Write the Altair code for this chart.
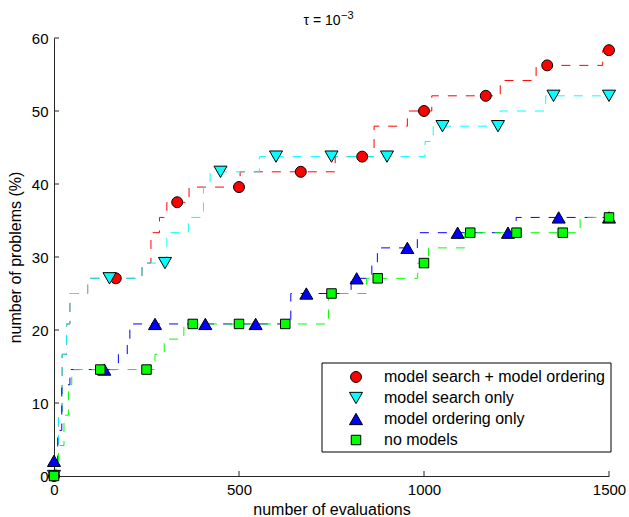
import altair as alt
import pandas as pd

FONT = "Liberation Sans"
SERIES = ["model search + model ordering", "model search only", "model ordering only", "no models"]
COLORS = ["#ff0000", "#00ffff", "#0000ff", "#00ff00"]
SHAPES = ["circle", "triangle-down", "triangle-up", "square"]
SIZES = [120, 170, 170, 90]

TITLE_BASE = "τ = 10"
TITLE_EXP = "−3"
X_TITLE = "number of evaluations"
Y_TITLE = "number of problems (%)"
X_TICKS = [0, 500, 1000, 1500]
Y_TICKS = [0, 10, 20, 30, 40, 50, 60]

# step change points: evaluations, % problems solved
red_x = [0, 5, 12, 22, 34, 43, 91, 238, 262, 285, 305, 365, 503, 760, 865, 955, 1021, 1206, 1303, 1483, 1500]
red_y = [0, 2.08, 8.33, 16.67, 20.83, 25.0, 27.08, 29.17, 33.33, 35.42, 37.5, 39.58, 41.67, 43.75, 47.92, 50.0,
         52.08, 54.17, 56.25, 58.33, 58.33]
cyan_x = [0, 5, 12, 22, 34, 43, 91, 238, 305, 363, 404, 422, 555, 1003, 1025, 1206, 1329, 1500]
cyan_y = [0, 2.08, 8.33, 16.67, 20.83, 25.0, 27.08, 29.17, 33.33, 35.42, 39.58, 41.67, 43.75, 45.83, 47.92,
          50.0, 52.08, 52.08]
blue_x = [0, 10, 21, 43, 174, 198, 205, 640, 803, 859, 874, 982, 1249, 1500]
blue_y = [2.08, 6.25, 12.5, 14.58, 16.67, 18.75, 20.83, 25.0, 27.08, 29.17, 31.25, 33.33, 35.42, 35.42]
green_x = [0, 12, 27, 39, 48, 273, 298, 351, 742, 845, 983, 1012, 1110, 1422, 1500]
green_y = [0, 4.17, 8.33, 12.5, 14.58, 16.67, 18.75, 20.83, 25.0, 27.08, 29.17, 31.25, 33.33, 35.42, 35.42]

# markers
red_mx = [0, 167, 333, 500, 667, 833, 1000, 1167, 1333, 1500]
red_my = [0, 27.08, 37.5, 39.58, 41.67, 43.75, 50.0, 52.08, 56.25, 58.33]
cyan_mx = [0, 150, 300, 450, 600, 750, 900, 1050, 1200, 1350, 1500]
cyan_my = [0, 27.08, 29.17, 41.67, 43.75, 43.75, 43.75, 47.92, 47.92, 52.08, 52.08]
blue_mx = [0, 136, 273, 409, 545, 682, 818, 955, 1091, 1227, 1364, 1500]
blue_my = [2.08, 14.58, 20.83, 20.83, 20.83, 25.0, 27.08, 31.25, 33.33, 33.33, 35.42, 35.42]
green_mx = [0, 125, 250, 375, 500, 625, 750, 875, 1000, 1125, 1250, 1375, 1500]
green_my = [0, 14.58, 14.58, 20.83, 20.83, 20.83, 25.0, 27.08, 29.17, 33.33, 33.33, 33.33, 35.42]

steps = [(red_x, red_y), (cyan_x, cyan_y), (blue_x, blue_y), (green_x, green_y)]
marks = [(red_mx, red_my), (cyan_mx, cyan_my), (blue_mx, blue_my), (green_mx, green_my)]

line_rows = []
for i, name in enumerate(SERIES):
    for x, y in zip(*steps[i]):
        line_rows.append({"method": name, "evals": x, "pct": y})
lines_df = pd.DataFrame(line_rows)

W, H = 555, 438
AX = "#262626"
xscale = alt.Scale(domain=[0, 1500], nice=False, zero=False)
yscale = alt.Scale(domain=[0, 60], nice=False, zero=False)

x_axis = alt.Axis(values=X_TICKS, format="d", title=X_TITLE, grid=False, tickSize=0, labelPadding=6,
                  titlePadding=4, domainColor=AX, labelColor="black", labelFontSize=15, titleFontSize=16,
                  labelFont=FONT, titleFont=FONT, titleFontWeight="normal", labelFlush=False,
                  titleColor="black")
y_axis = alt.Axis(values=Y_TICKS, format="d", title=Y_TITLE, grid=False, tickSize=0, labelPadding=6,
                  titlePadding=8, domainColor=AX, labelColor="black", labelFontSize=15, titleFontSize=16,
                  labelFont=FONT, titleFont=FONT, titleFontWeight="normal", labelFlush=False,
                  titleColor="black")

X = alt.X("evals:Q", scale=xscale, axis=x_axis)
Y = alt.Y("pct:Q", scale=yscale, axis=y_axis)

lines = alt.Chart(lines_df).mark_line(interpolate="step-after", strokeWidth=1, strokeDash=[9, 9]).encode(
    x=X, y=Y,
    stroke=alt.Stroke("method:N", scale=alt.Scale(domain=SERIES, range=COLORS), legend=None),
)

point_layers = []
for i, name in enumerate(SERIES):
    df = pd.DataFrame({"evals": marks[i][0], "pct": marks[i][1]})
    point_layers.append(
        alt.Chart(df).mark_point(filled=True, shape=SHAPES[i], size=SIZES[i], fill=COLORS[i],
                                 stroke="black", strokeWidth=1, opacity=1).encode(x=X, y=Y)
    )

xt = alt.Chart(pd.DataFrame({"evals": X_TICKS})).mark_rule(color=AX, strokeWidth=1).encode(
    x=X, y=alt.value(H), y2=alt.value(H - 5))
yt = alt.Chart(pd.DataFrame({"pct": Y_TICKS})).mark_rule(color=AX, strokeWidth=1).encode(
    y=Y, x=alt.value(0), x2=alt.value(5))

one = pd.DataFrame({"k": [0]})
t1 = alt.Chart(pd.DataFrame({"t": [TITLE_BASE]})).mark_text(
    font=FONT, fontSize=14, align="center", baseline="alphabetic", color="black").encode(
    text="t:N", x=alt.value(268), y=alt.value(-13))
t2 = alt.Chart(pd.DataFrame({"t": [TITLE_EXP]})).mark_text(
    font=FONT, fontSize=11, align="left", baseline="alphabetic", color="black").encode(
    text="t:N", x=alt.value(287), y=alt.value(-19))

# manual legend (MATLAB-style boxed legend)
LEG_X0, LEG_X1, LEG_Y0, LEG_Y1 = 268, 557, 325, 414
LEG_SYM_X, LEG_TXT_X = 302, 330
LEG_ROWS = [339, 360, 381, 402]
legend_layers = [
    alt.Chart(one).mark_rect(fill="white", stroke="black", strokeWidth=1).encode(
        x=alt.value(LEG_X0), x2=alt.value(LEG_X1), y=alt.value(LEG_Y0), y2=alt.value(LEG_Y1))
]
for i, name in enumerate(SERIES):
    legend_layers.append(
        alt.Chart(one).mark_point(filled=True, shape=SHAPES[i], size=SIZES[i], fill=COLORS[i],
                                  stroke="black", strokeWidth=1, opacity=1).encode(
            x=alt.value(LEG_SYM_X), y=alt.value(LEG_ROWS[i])))
    legend_layers.append(
        alt.Chart(pd.DataFrame({"t": [name]})).mark_text(
            font=FONT, fontSize=16, align="left", baseline="middle", color="black").encode(
            text="t:N", x=alt.value(LEG_TXT_X), y=alt.value(LEG_ROWS[i])))

chart = alt.layer(lines, xt, yt, *point_layers, t1, t2, *legend_layers).properties(
    width=W, height=H,
    background="white",
    autosize=alt.AutoSizeParams(type="none"),
    padding={"left": 54, "top": 38, "right": 20, "bottom": 41},
).configure_view(stroke=None)

chart.save("out.html", embed_options={"renderer": "svg", "actions": False})
